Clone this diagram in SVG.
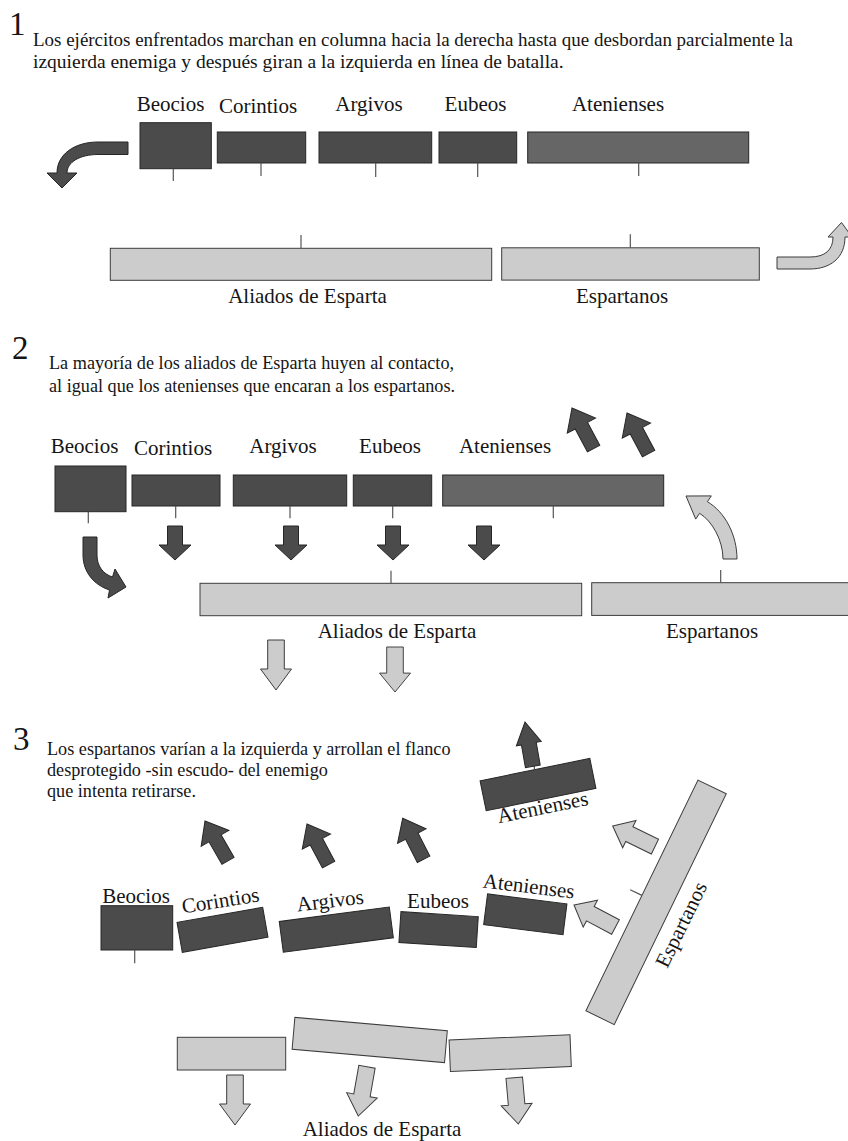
<svg xmlns="http://www.w3.org/2000/svg" xmlns:xlink="http://www.w3.org/1999/xlink" width="848" height="1141" viewBox="0 0 848 1141">
<style>
.t{font-family:"Liberation Serif","Times New Roman",serif;fill:#151515}
.body{font-size:18.2px}
.body1{font-size:19.5px}
.lbl{font-size:21px;text-anchor:middle}
.num{font-size:33px}
.dk{fill:#4b4b4b;stroke:#262626;stroke-width:1}
.md{fill:#666666;stroke:#262626;stroke-width:1}
.lt{fill:#cccccc;stroke:#3c3c3c;stroke-width:1}
.tick{stroke:#555555;stroke-width:1.2;fill:none}
</style>
<defs>
<path id="flee" d="M0,0 L16,20 L7,20 L7,46 L-7,46 L-7,20 L-16,20 Z"/>
<path id="down2" d="M0,0 L-16,-15 L-7.5,-15 L-7.5,-34 L7.5,-34 L7.5,-15 L16,-15 Z"/>
<path id="downL" d="M0,0 L-15.5,-21 L-8.3,-21 L-8.3,-50 L8.3,-50 L8.3,-21 L15.5,-21 Z"/>
<path id="upL" d="M0,0 L15.2,18.5 L8.2,18.5 L8.2,47 L-8.2,47 L-8.2,18.5 L-15.2,18.5 Z"/>
<path id="upA" d="M0,0 L12.6,22 L7.5,22 L7.5,45 L-7.5,45 L-7.5,22 L-12.6,22 Z"/>
</defs>
<rect width="848" height="1141" fill="#ffffff"/>

<!-- ========== Section 1 ========== -->
<g id="s1-text">
<text class="t num" x="9" y="35">1</text>
<text class="t body1" x="33" y="45.5" textLength="760" lengthAdjust="spacingAndGlyphs">Los ejércitos enfrentados marchan en columna hacia la derecha hasta que desbordan parcialmente la</text>
<text class="t body1" x="33" y="67.5">izquierda enemiga y después giran a la izquierda en línea de batalla.</text>
</g>
<g id="s1-beocios"><rect class="dk" x="140" y="122.7" width="71.3" height="46"/><text class="t lbl" x="170.5" y="111">Beocios</text></g>
<g id="s1-corintios"><rect class="dk" x="217.3" y="132" width="88.4" height="31"/><text class="t lbl" x="258" y="112.5">Corintios</text></g>
<g id="s1-argivos"><rect class="dk" x="319" y="132" width="112.7" height="31"/><text class="t lbl" x="369" y="110.5">Argivos</text></g>
<g id="s1-eubeos"><rect class="dk" x="439" y="132" width="77.7" height="31"/><text class="t lbl" x="475.5" y="111">Eubeos</text></g>
<g id="s1-atenienses"><rect class="md" x="527.7" y="132" width="221" height="31"/><text class="t lbl" x="618" y="111">Atenienses</text></g>
<g id="s1-aliados"><rect class="lt" x="110.3" y="248.3" width="381.4" height="32"/><text class="t lbl" x="307.5" y="302.5">Aliados de Esparta</text></g>
<g id="s1-espartanos"><rect class="lt" x="501.7" y="247.8" width="257.6" height="32.3"/><text class="t lbl" x="622" y="302.5">Espartanos</text></g>
<g id="s1-connectors">
<line class="tick" x1="173.3" y1="168.7" x2="173.3" y2="181"/>
<line class="tick" x1="261" y1="163" x2="261" y2="176"/>
<line class="tick" x1="375.7" y1="163" x2="375.7" y2="177"/>
<line class="tick" x1="477.7" y1="163" x2="477.7" y2="177"/>
<line class="tick" x1="638.7" y1="163" x2="638.7" y2="176"/>
<line class="tick" x1="301" y1="235" x2="301" y2="248.3"/>
<line class="tick" x1="630.3" y1="234.3" x2="630.3" y2="247.8"/>
<path class="dk" d="M128,142 L98,142 C75,142 57,154 57,173 L47,173 L62,188 L77,173 L67,173 C67,162 80,154.5 98,154.5 L128,154.5 Z"/>
<path class="lt" d="M777,257 L810,257 C825,257 833,250 833,237 L828,237 L841.5,222.5 L852,237 L845,237 C845,258 830,269 810,269 L777,269 Z"/>
</g>

<!-- ========== Section 2 ========== -->
<g id="s2-text">
<text class="t num" x="12" y="359">2</text>
<text class="t body" x="49" y="369">La mayoría de los aliados de Esparta huyen al contacto,</text>
<text class="t body" x="49" y="391.5">al igual que los atenienses que encaran a los espartanos.</text>
</g>
<g id="s2-beocios"><rect class="dk" x="55" y="466" width="71" height="45.7"/><text class="t lbl" x="84.5" y="453.3">Beocios</text></g>
<g id="s2-corintios"><rect class="dk" x="132" y="475" width="88" height="31"/><text class="t lbl" x="173" y="455">Corintios</text></g>
<g id="s2-argivos"><rect class="dk" x="233.3" y="475" width="113.4" height="31"/><text class="t lbl" x="283" y="453">Argivos</text></g>
<g id="s2-eubeos"><rect class="dk" x="353.3" y="475" width="78.4" height="31"/><text class="t lbl" x="390" y="453">Eubeos</text></g>
<g id="s2-atenienses"><rect class="md" x="442.7" y="475" width="221" height="31"/><text class="t lbl" x="505" y="453.3">Atenienses</text></g>
<g id="s2-aliados"><rect class="lt" x="200" y="583.3" width="381.7" height="32.4"/><text class="t lbl" x="397" y="638.3">Aliados de Esparta</text></g>
<g id="s2-espartanos"><rect class="lt" x="591.7" y="582.7" width="258" height="32.7"/><text class="t lbl" x="712" y="638.3">Espartanos</text></g>
<g id="s2-connectors">
<line class="tick" x1="88.3" y1="511.7" x2="88.3" y2="523.3"/>
<line class="tick" x1="175.7" y1="506" x2="175.7" y2="518.3"/>
<line class="tick" x1="290" y1="506" x2="290" y2="518.3"/>
<line class="tick" x1="392.7" y1="506" x2="392.7" y2="518.3"/>
<line class="tick" x1="553.3" y1="506" x2="553.3" y2="518.3"/>
<line class="tick" x1="391" y1="570.7" x2="391" y2="583.3"/>
<line class="tick" x1="720.7" y1="570" x2="720.7" y2="582.7"/>
<use xlink:href="#down2" href="#down2" class="dk" transform="translate(175,560)"/>
<use xlink:href="#down2" href="#down2" class="dk" transform="translate(291,560)"/>
<use xlink:href="#down2" href="#down2" class="dk" transform="translate(393,560)"/>
<use xlink:href="#down2" href="#down2" class="dk" transform="translate(484,560)"/>
<use xlink:href="#flee" href="#flee" class="dk" transform="translate(572,408) rotate(-28)"/>
<use xlink:href="#flee" href="#flee" class="dk" transform="translate(627,413) rotate(-28)"/>
<use xlink:href="#downL" href="#downL" class="lt" transform="translate(276,690)"/>
<use xlink:href="#downL" href="#downL" class="lt" transform="translate(395,692) scale(1,0.9)"/>
<path class="dk" d="M83,537 L97,537 L97,555 C97,566 103,574 112.5,577 L115,569 L126,587 L108,598 L109.5,590 C94,585 83,572 83,555 Z"/>
<path class="lt" d="M723,559 L737,559 C737,535 725,512 707.4,501.7 L711.3,495.9 L686,496 L695.7,519.1 L699.6,513.3 C712,521 723,540 723,559 Z"/>
</g>

<!-- ========== Section 3 ========== -->
<g id="s3-text">
<text class="t num" x="13" y="750">3</text>
<text class="t body" x="47" y="755">Los espartanos varían a la izquierda y arrollan el flanco</text>
<text class="t body" x="47" y="776">desprotegido -sin escudo- del enemigo</text>
<text class="t body" x="47" y="797">que intenta retirarse.</text>
</g>
<g id="s3-beocios"><rect class="dk" x="101" y="905.7" width="71.7" height="44.3"/><text class="t lbl" x="136" y="903">Beocios</text></g>
<g id="s3-corintios"><rect class="dk" x="-43.5" y="-15.2" width="87" height="30.4" transform="translate(222.5,929.8) rotate(-10)"/><text class="t lbl" transform="translate(221.5,907.4) rotate(-9)">Corintios</text></g>
<g id="s3-argivos"><rect class="dk" x="-55.5" y="-15.5" width="111" height="31" transform="translate(336.3,929.6) rotate(-7.5)"/><text class="t lbl" transform="translate(331,907.5) rotate(-7)">Argivos</text></g>
<g id="s3-eubeos"><rect class="dk" x="-38.75" y="-15.5" width="77.5" height="31" transform="translate(438.6,929.6) rotate(3.7)"/><text class="t lbl" x="438" y="908.3">Eubeos</text></g>
<g id="s3-atenienses"><rect class="dk" x="-40" y="-15.5" width="80" height="31" transform="translate(525.3,914.3) rotate(7.2)"/><text class="t lbl" transform="translate(528,893) rotate(7)">Atenienses</text></g>
<g id="s3-atenienses-retirada"><rect class="dk" x="-56" y="-15.3" width="112" height="30.6" transform="translate(538,784.6) rotate(-11.5)"/><text class="t lbl" transform="translate(544,814) rotate(-11.5)">Atenienses</text></g>
<g id="s3-espartanos"><rect class="lt" x="-128.25" y="-15.75" width="256.5" height="31.5" transform="translate(656.1,902.3) rotate(-64.1)"/><text class="t lbl" transform="translate(687.5,927.6) rotate(-64)">Espartanos</text></g>
<g id="s3-aliados"><rect class="lt" x="177.3" y="1037.3" width="108.4" height="32.7"/><rect class="lt" x="-76.5" y="-16" width="153" height="32" transform="translate(369.7,1040) rotate(5)"/><rect class="lt" x="-60.5" y="-15.85" width="121" height="31.7" transform="translate(510.2,1053.2) rotate(-2.4)"/><text class="t lbl" x="382" y="1135.5">Aliados de Esparta</text></g>
<g id="s3-connectors">
<line class="tick" x1="134.7" y1="950" x2="134.7" y2="963.3"/>
<line class="tick" x1="630.2" y1="889.7" x2="641.9" y2="895.4"/>
<line class="tick" x1="534" y1="764" x2="534.5" y2="769.5"/>
<use xlink:href="#flee" href="#flee" class="dk" transform="translate(205,821) rotate(-30)"/>
<use xlink:href="#flee" href="#flee" class="dk" transform="translate(307,824) rotate(-28)"/>
<use xlink:href="#flee" href="#flee" class="dk" transform="translate(402.7,818.3) rotate(-27)"/>
<use xlink:href="#upA" href="#upA" class="dk" transform="translate(525,722) rotate(-10)"/>
<use xlink:href="#upL" href="#upL" class="lt" transform="translate(612.7,826) rotate(-64)"/>
<use xlink:href="#upL" href="#upL" class="lt" transform="translate(574,905) rotate(-62)"/>
<use xlink:href="#downL" href="#downL" class="lt" transform="translate(235,1125)"/>
<use xlink:href="#downL" href="#downL" class="lt" transform="translate(358.3,1116) rotate(10)"/>
<use xlink:href="#downL" href="#downL" class="lt" transform="translate(518.3,1124) rotate(-5) scale(1,0.93)"/>
</g>
</svg>
